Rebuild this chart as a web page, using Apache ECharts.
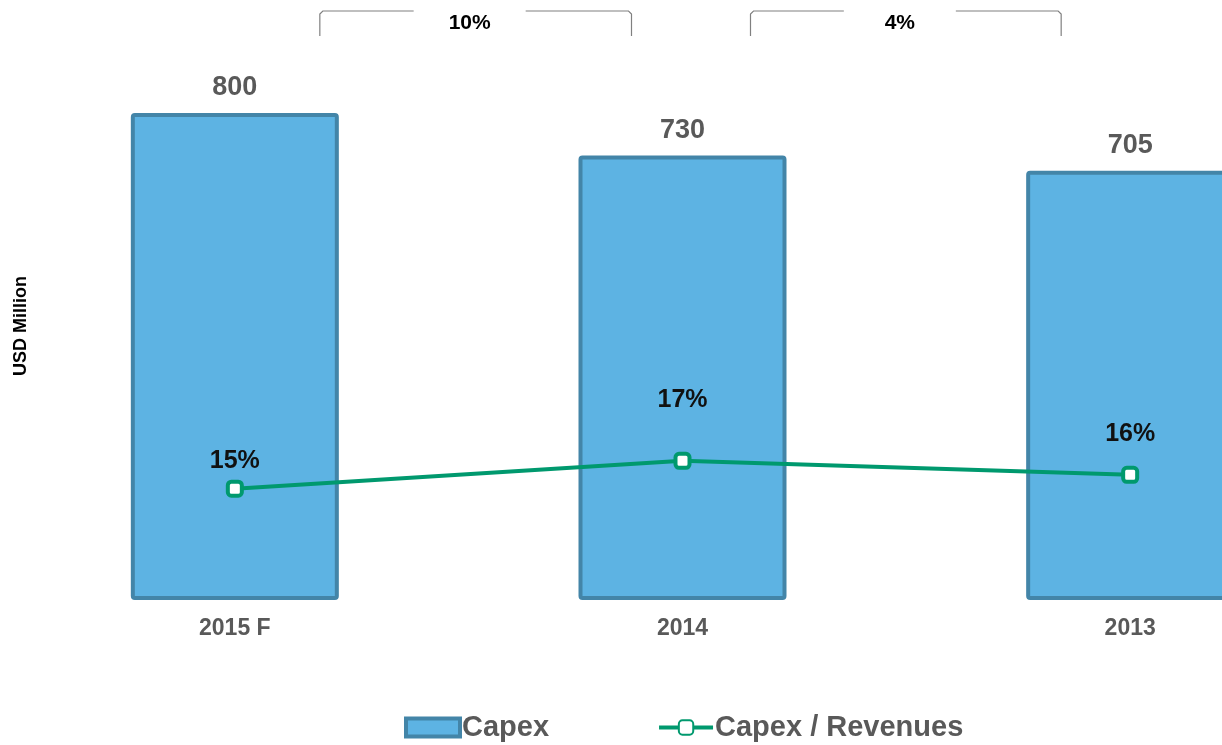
<!DOCTYPE html>
<html>
<head>
<meta charset="utf-8">
<script src="https://cdn.jsdelivr.net/npm/echarts@6/dist/echarts.min.js"></script>
<style>
  html, body { margin: 0; padding: 0; background: #fff; }
  #myChart { width: 1222px; height: 745px; }
</style>
</head>
<body>
<div id="myChart"></div>
<script>
  // data
  const categories = ['2015 F', '2014', '2013'];
  const capex = [800, 730, 705];
  const capexRatio = [15, 17, 16];
  const growthLabels = ['10%', '4%'];

  // extra lift of the ratio labels (they were placed by hand in the original)
  const ratioLabelLift = [0, 33, 13];

  const font = '"Liberation Sans", Arial, sans-serif';
  const green = '#00996E';
  const myChart = echarts.init(document.getElementById('myChart'));

  const option = {
    animation: false,
    textStyle: { fontFamily: font },
    // plot runs past the right edge, the last bar is cut off like in the original
    grid: { left: 11, width: 1343, top: 113, bottom: 145, outerBoundsMode: 'none', containLabel: false },
    legend: {
      left: 399,
      top: 708,
      itemGap: 108,
      itemWidth: 54,
      itemHeight: 18,
      textStyle: { fontSize: 29, fontWeight: 'bold', color: '#595959', fontFamily: font, padding: [0, 0, 0, -3] },
      data: [
        { name: 'Capex', icon: 'rect', itemStyle: { borderWidth: 4, borderColor: '#4385A8' } },
        { name: 'Capex / Revenues', lineStyle: { width: 4, color: green } }
      ]
    },
    xAxis: {
      type: 'category',
      data: categories,
      axisLine: { show: false },
      axisTick: { show: false },
      axisLabel: { fontSize: 23, fontWeight: 'bold', color: '#595959', fontFamily: font, margin: 17 }
    },
    yAxis: [
      { type: 'value', min: 0, max: 800, show: false },
      { type: 'value', min: 7, max: 42, show: false }
    ],
    series: [
      {
        name: 'Capex',
        type: 'bar',
        data: capex,
        barWidth: 208,
        itemStyle: { color: '#5DB3E3', borderColor: '#4385A8', borderWidth: 4, borderRadius: 2 },
        label: { show: true, position: 'top', distance: 12, fontSize: 27, fontWeight: 'bold', color: '#595959', fontFamily: font }
      },
      {
        name: 'Capex / Revenues',
        type: 'line',
        yAxisIndex: 1,
        data: capexRatio.map((v, i) => ({ value: v, label: { offset: [0, -ratioLabelLift[i]] } })),
        symbol: 'roundRect',
        symbolSize: 14,
        lineStyle: { color: green, width: 4 },
        itemStyle: { color: '#fff', borderColor: green, borderWidth: 4 },
        label: {
          show: true, position: 'top', distance: 6, fontSize: 25, fontWeight: 'bold', color: '#111', fontFamily: font,
          formatter: p => p.value + '%'
        },
        z: 5
      }
    ]
  };
  myChart.setOption(option);

  // axis title + brackets with growth between bars
  const graphics = [{
    type: 'text', x: 21, y: 326, rotation: Math.PI / 2,
    style: { text: 'USD Million', font: 'bold 18px ' + font, fill: '#000', align: 'center', verticalAlign: 'middle' }
  }];
  const bracketCfg = [[85, -51], [68, -69]];
  growthLabels.forEach((txt, i) => {
    const x1 = myChart.convertToPixel({ xAxisIndex: 0 }, categories[i]) + bracketCfg[i][0];
    const x2 = myChart.convertToPixel({ xAxisIndex: 0 }, categories[i + 1]) + bracketCfg[i][1];
    const mid = (x1 + x2) / 2 - 6;
    const lineStyle = { stroke: '#808080', lineWidth: 1.2, fill: null };
    graphics.push(
      { type: 'polyline', shape: { points: [[x1, 36], [x1, 14], [x1 + 3, 11], [mid - 56, 11]] }, style: lineStyle },
      { type: 'polyline', shape: { points: [[mid + 56, 11], [x2 - 3, 11], [x2, 14], [x2, 36]] }, style: lineStyle },
      { type: 'text', x: mid, y: 23, style: { text: txt, font: 'bold 21px ' + font, fill: '#000', align: 'center', verticalAlign: 'middle' } }
    );
  });
  myChart.setOption({ graphic: graphics });
</script>
</body>
</html>
